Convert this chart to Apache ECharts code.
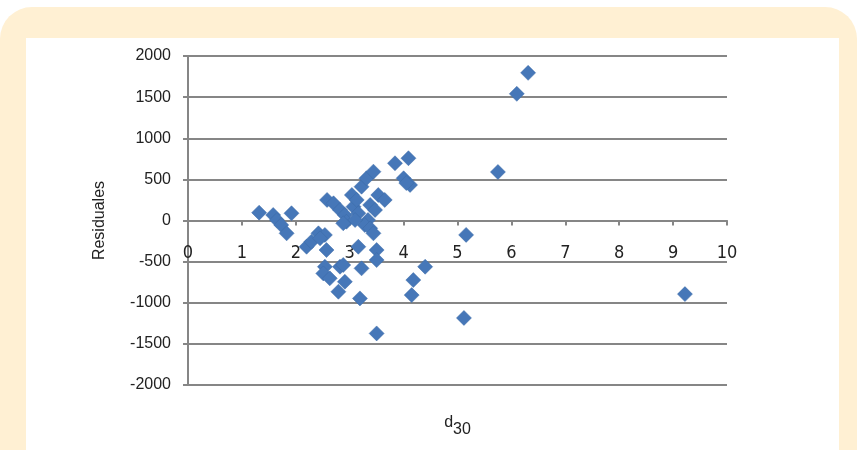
<!DOCTYPE html>
<html>
<head>
<meta charset="utf-8">
<script src="https://cdn.jsdelivr.net/npm/echarts@6/dist/echarts.min.js"></script>
<style>
html,body{margin:0;padding:0;background:#fff;}
#chart{width:857px;height:450px;}
</style>
</head>
<body>
<div id="chart"></div>
<script>
// d30 values (x) and residuals (y)
const d30 = [
  1.32, 1.58, 1.65, 1.73, 1.83, 1.92,
  2.20, 2.29, 2.42, 2.54, 2.57, 2.45,
  2.54, 2.51, 2.63, 2.82, 2.88, 2.91, 2.79,
  3.16, 3.22, 3.19, 3.50, 3.50, 3.50,
  4.18, 4.15, 4.40, 5.16, 5.12, 5.75, 6.10, 6.31, 9.22,
  2.58, 2.70, 2.82, 2.91, 2.94, 3.04, 3.07, 3.13, 3.22, 3.31,
  3.44, 3.53, 3.65, 3.38, 3.47, 3.34, 3.28, 3.16, 3.10, 2.88,
  3.38, 3.44, 3.84, 4.09, 4.00, 4.12, 4.05
];
const residuales = [
  95, 67, 6, -55, -156, 88,
  -319, -258, -156, -176, -359, -217,
  -562, -643, -703, -562, -541, -745, -866,
  -319, -582, -947, -359, -481, -1373,
  -724, -907, -562, -175, -1185, 590, 1540, 1795, -895,
  250, 209, 128, 67, -15, 310, 168, 250, 411, 513,
  594, 310, 250, 189, 128, 6, -55, 88, 6, -34,
  -95, -156, 696, 757, 513, 432, 455
];
const yTicks = [-2000, -1500, -1000, -500, 0, 500, 1000, 1500, 2000];
const xTicks = [0, 1, 2, 3, 4, 5, 6, 7, 8, 9, 10];

const points = d30.map((x, i) => [x, residuales[i]]);

const yMin = yTicks[0], yMax = yTicks[yTicks.length - 1];
const xMin = xTicks[0], xMax = xTicks[xTicks.length - 1];

// plot area geometry
const G = {left: 188, right: 130, top: 56, bottom: 65};
const plotH = 450 - G.top - G.bottom;
// pixel distance from the bottom of the chart to y = 0 (x axis crosses there)
const zeroBottom = G.bottom + plotH * (0 - yMin) / (yMax - yMin);

const chart = echarts.init(document.getElementById('chart'), null, {renderer: 'canvas'});
chart.setOption({
  animation: false,
  backgroundColor: '#ffffff',
  graphic: [
    {type: 'rect', z: -10, silent: true,
     shape: {x: 0, y: 7, width: 857, height: 470, r: [32, 32, 0, 0]},
     style: {fill: '#FFF0D3'}},
    {type: 'rect', z: -9, silent: true,
     shape: {x: 26, y: 38, width: 813, height: 420},
     style: {fill: '#ffffff'}}
  ],
  grid: [
    {left: G.left, right: G.right, top: G.top, bottom: G.bottom, containLabel: false, outerBoundsMode: 'none'},
    {left: G.left, right: G.right, top: G.top, bottom: zeroBottom, containLabel: false, outerBoundsMode: 'none'}
  ],
  xAxis: [
    {
      gridIndex: 0, type: 'value', min: xMin, max: xMax, interval: 1, show: false,
      splitLine: {show: false}
    },
    {
      gridIndex: 1, type: 'value', min: xMin, max: xMax, interval: 1, position: 'bottom',
      name: '{a|d}{b|30}',
      nameLocation: 'middle', nameGap: 194,
      nameTextStyle: {
        rich: {
          a: {fontFamily: 'Liberation Sans', fontSize: 16, color: '#222', verticalAlign: 'top', lineHeight: 20},
          b: {fontFamily: 'Liberation Sans', fontSize: 16, color: '#222', padding: [10, 0, 0, 0], lineHeight: 20}
        }
      },
      axisLine: {onZero: false, lineStyle: {color: '#868686', width: 2}},
      axisTick: {show: true, inside: false, length: 5, lineStyle: {color: '#868686', width: 2}},
      axisLabel: {margin: 24, fontFamily: "'Liberation Sans Narrow', 'DejaVu Sans Condensed', 'DejaVu Sans', sans-serif", fontSize: 18, color: '#222', formatter: v => String(v)},
      splitLine: {show: false}
    }
  ],
  yAxis: [
    {
      gridIndex: 0, type: 'value', min: yMin, max: yMax, interval: 500,
      name: 'Residuales', nameLocation: 'middle', nameGap: 80, nameRotate: 90,
      nameTextStyle: {fontFamily: 'Liberation Sans', fontSize: 16, color: '#222'},
      axisLine: {show: true, onZero: false, lineStyle: {color: '#868686', width: 2}},
      axisTick: {show: true, length: 5, lineStyle: {color: '#868686', width: 2}},
      axisLabel: {margin: 17, fontFamily: 'Liberation Sans', fontSize: 16, color: '#222', formatter: v => String(v)},
      splitLine: {show: true, lineStyle: {color: '#868686', width: 2}}
    },
    {
      gridIndex: 1, type: 'value', min: 0, max: yMax, show: false, splitLine: {show: false}
    }
  ],
  series: [{
    type: 'scatter',
    xAxisIndex: 0, yAxisIndex: 0,
    data: points,
    symbol: 'diamond',
    symbolSize: 15,
    z: 5,
    itemStyle: {color: '#4677B8', borderColor: '#3D6AA6', borderWidth: 0.5, opacity: 1}
  }]
});
</script>
</body>
</html>
